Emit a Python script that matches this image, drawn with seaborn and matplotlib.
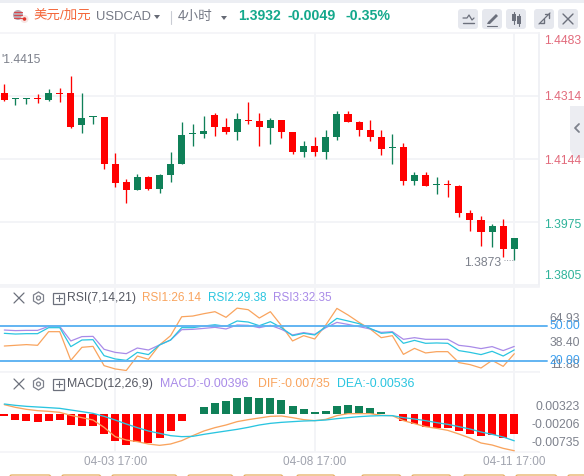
import matplotlib
matplotlib.use('Agg')
import matplotlib.pyplot as plt
from matplotlib.patches import Circle, FancyBboxPatch, Polygon
import numpy as np
import seaborn as sns

# candles (USDCAD, 4h)
OPEN = [1.4322, 1.4305, 1.4305, 1.4307, 1.4303, 1.4322, 1.4322, 1.4236, 1.4257, 1.4258, 1.4131, 1.4083,
        1.4061, 1.4096, 1.4064, 1.4101, 1.4131, 1.4211, 1.4212, 1.4263, 1.4231, 1.4217, 1.4249, 1.4247,
        1.4228, 1.4249, 1.4217, 1.4163, 1.4179, 1.4163, 1.4204, 1.4266, 1.4244, 1.4223, 1.4204, 1.4173,
        1.4177, 1.4085, 1.4101, 1.4074, 1.4076, 1.4072, 1.3999, 1.3980, 1.3948, 1.3964, 1.3902]
HIGH = [1.4346, 1.4307, 1.4309, 1.4319, 1.4333, 1.4336, 1.4368, 1.4322, 1.4260, 1.4258, 1.4161, 1.4091,
        1.4104, 1.4099, 1.4104, 1.4163, 1.4244, 1.4239, 1.4260, 1.4268, 1.4255, 1.4268, 1.4298, 1.4268,
        1.4255, 1.4249, 1.4217, 1.4193, 1.4204, 1.4223, 1.4274, 1.4274, 1.4247, 1.4249, 1.4223, 1.4212,
        1.4188, 1.4110, 1.4110, 1.4096, 1.4088, 1.4075, 1.4007, 1.3991, 1.3970, 1.3983, 1.3932]
LOW = [1.4299, 1.4290, 1.4292, 1.4295, 1.4301, 1.4298, 1.4229, 1.4214, 1.4239, 1.4118, 1.4069, 1.4026,
       1.4061, 1.4061, 1.4053, 1.4083, 1.4131, 1.4179, 1.4201, 1.4206, 1.4212, 1.4196, 1.4239, 1.4179,
       1.4185, 1.4201, 1.4158, 1.4150, 1.4153, 1.4145, 1.4196, 1.4244, 1.4206, 1.4193, 1.4155, 1.4131,
       1.4075, 1.4075, 1.4072, 1.4050, 1.4042, 1.3988, 1.3951, 1.3911, 1.3908, 1.3881, 1.3873]
CLOSE = [1.4303, 1.4307, 1.4307, 1.4305, 1.4322, 1.4320, 1.4231, 1.4255, 1.4258, 1.4131, 1.4080, 1.4061,
         1.4096, 1.4064, 1.4101, 1.4131, 1.4209, 1.4212, 1.4220, 1.4231, 1.4217, 1.4252, 1.4247, 1.4231,
         1.4249, 1.4217, 1.4163, 1.4179, 1.4163, 1.4204, 1.4266, 1.4244, 1.4223, 1.4204, 1.4171, 1.4175,
         1.4085, 1.4101, 1.4072, 1.4076, 1.4074, 1.3999, 1.3980, 1.3948, 1.3964, 1.3902, 1.3932]

RSI1 = [32.7, 33.3, 33.9, 33.3, 44.9, 44.9, 20.5, 31.6, 32.4, 16.0, 13.2, 11.88, 24.2, 21.4, 33.6, 41.5,
        57.6, 58.2, 60.2, 61.9, 57.1, 64.93, 63.6, 56.5, 61.9, 50.0, 37.0, 41.5, 38.7, 50.6, 64.7, 59.1,
        52.8, 47.2, 39.8, 41.5, 25.6, 30.7, 26.8, 27.9, 27.9, 18.6, 16.9, 14.0, 20.5, 15.4, 26.14]
RSI2 = [43.5, 42.9, 43.2, 43.2, 48.3, 48.3, 32.2, 37.8, 38.1, 24.5, 21.7, 20.5, 27.3, 25.4, 33.6, 37.8,
        48.3, 48.3, 49.7, 50.8, 49.4, 54.0, 53.1, 50.0, 53.4, 48.3, 41.5, 43.5, 42.1, 49.2, 56.2, 54.0,
        51.7, 47.7, 43.5, 44.3, 35.0, 37.5, 35.0, 35.3, 35.0, 28.8, 27.3, 25.4, 28.2, 24.2, 29.38]
RSI3 = [46.3, 45.8, 46.0, 46.0, 49.4, 49.4, 37.0, 40.7, 40.9, 29.9, 27.3, 26.2, 31.0, 29.3, 33.6, 37.8,
        46.6, 46.9, 47.7, 48.6, 47.2, 50.6, 50.3, 48.3, 50.3, 46.9, 42.1, 44.1, 42.6, 48.3, 52.8, 51.1,
        49.2, 47.2, 44.3, 44.9, 38.4, 39.8, 38.4, 38.4, 38.4, 33.3, 32.2, 30.5, 32.2, 28.8, 32.35]

MACD = [-0.0004, -0.0012, -0.0014, -0.0016, -0.0014, -0.0012, -0.0022, -0.0024, -0.0024, -0.0040, -0.0054,
        -0.0062, -0.0056, -0.0058, -0.0048, -0.0034, -0.0014, 0.0001, 0.0014, 0.0022, 0.0026, 0.0032, 0.0034,
        0.0032, 0.0032, 0.0028, 0.0016, 0.0010, 0.0004, 0.0006, 0.0016, 0.0018, 0.0016, 0.0012, 0.0004, 0.0001,
        -0.0014, -0.0020, -0.0026, -0.0028, -0.0028, -0.0034, -0.0040, -0.0044, -0.0042, -0.0048, -0.00396]
DIF = [0.00187, 0.00133, 0.00093, 0.00067, 0.00053, 0.00033, -0.00027, -0.00073, -0.00120, -0.00267, -0.00453,
       -0.00520, -0.00553, -0.00600, -0.00627, -0.00600, -0.00533, -0.00433, -0.00340, -0.00273, -0.00220,
       -0.00153, -0.00113, -0.00080, -0.00047, -0.00040, -0.00073, -0.00113, -0.00133, -0.00107, -0.00033,
       0.00007, 0.00007, 0.00007, -0.00027, -0.00033, -0.00133, -0.00193, -0.00253, -0.00287, -0.00327,
       -0.00400, -0.00480, -0.00580, -0.00620, -0.00687, -0.00735]
DEA = [0.00200, 0.00173, 0.00153, 0.00140, 0.00127, 0.00113, 0.00080, 0.00047, 0.00013, -0.00047, -0.00120,
       -0.00200, -0.00273, -0.00340, -0.00387, -0.00433, -0.00453, -0.00447, -0.00407, -0.00373, -0.00340,
       -0.00307, -0.00267, -0.00220, -0.00187, -0.00167, -0.00153, -0.00140, -0.00133, -0.00120, -0.00093,
       -0.00073, -0.00053, -0.00040, -0.00033, -0.00033, -0.00073, -0.00100, -0.00133, -0.00173, -0.00207,
       -0.00253, -0.00300, -0.00360, -0.00407, -0.00460, -0.00536]

PRICE_GRID = [1.4314, 1.4144, 1.3975, 1.3805]
TIME_INDEX = [10, 28, 46]
TIME_LABELS = ['04-03 17:00', '04-08 17:00', '04-11 17:00']

W, H = 584, 476
UP = '#0f8058'
DOWN = '#ff0000'
GRID = '#f3f4f7'
GRAY = '#7d818c'
ORANGE = '#f9a45e'
CYAN = '#2ac5e0'
PURPLE = '#a98be8'
LEVEL = '#62b4f2'
FONT = ['Liberation Sans', 'Noto Sans CJK SC', 'DejaVu Sans']

sns.set_theme(style='white')
plt.rcParams['font.family'] = FONT


def pane(fig, top, bottom):
    ax = fig.add_axes([0, 1 - bottom / H, 539 / W, (bottom - top) / H])
    for side in ['left', 'right']:
        ax.spines[side].set_visible(False)
    for side in ['top', 'bottom']:
        ax.spines[side].set_color(GRID)
        ax.spines[side].set_linewidth(1.2)
    ax.set_xticks(TIME_INDEX)
    ax.set_xticklabels([])
    ax.set_yticks([])
    ax.tick_params(length=0)
    ax.grid(True, axis='x', color=GRID, lw=1.4)
    ax.set_axisbelow(True)
    return ax


fig = plt.figure(figsize=(W / 100, H / 100), dpi=100, facecolor='white')
ax_main = pane(fig, 33, 286)
ax_rsi = pane(fig, 287, 372)
ax_macd = pane(fig, 372, 452)

idx = np.arange(len(CLOSE))
o, c = np.array(OPEN), np.array(CLOSE)
colors = [UP if up else DOWN for up in c >= o]

# candles
ax_main.vlines(idx, LOW, HIGH, colors=colors, lw=0.95, zorder=3)
ax_main.bar(idx, np.maximum(np.abs(c - o), 0.00027), bottom=np.minimum(o, c), width=0.64,
            color=colors, linewidth=0, zorder=3)
ax_main.set_yticks(PRICE_GRID)
ax_main.set_yticklabels([])
ax_main.grid(True, axis='y', color=GRID, lw=1.4)
ax_main.spines['right'].set_visible(True)
ax_main.spines['right'].set_color('#eef0f4')
ax_main.set_ylim(1.3803, 1.4483)

# RSI
for series, col in [(RSI1, ORANGE), (RSI3, PURPLE), (RSI2, CYAN)]:
    sns.lineplot(x=idx, y=series, color=col, lw=0.9, errorbar=None, ax=ax_rsi, zorder=3)
for level in [50, 20]:
    ax_rsi.plot([0, 547 / 539], [level, level], color=LEVEL, lw=1.4,
                transform=ax_rsi.get_yaxis_transform(), clip_on=False, zorder=4)
ax_rsi.set_ylim(10.6, 82.9)

# MACD
side = ['up' if v > 0 else 'down' for v in MACD]
sns.barplot(x=idx, y=MACD, hue=side, palette={'up': UP, 'down': DOWN}, dodge=False, native_scale=True,
            width=0.72, saturation=1, legend=False, errorbar=None, linewidth=0, ax=ax_macd, zorder=2)
sns.lineplot(x=idx, y=DIF, color=ORANGE, lw=0.95, errorbar=None, ax=ax_macd, zorder=3)
sns.lineplot(x=idx, y=DEA, color=CYAN, lw=0.95, errorbar=None, ax=ax_macd, zorder=3)
ax_macd.set_ylim(-0.0076, 0.0084)
ax_macd.set_yticks([])
ax_macd.set_xticks(TIME_INDEX)
ax_macd.set_xticklabels(TIME_LABELS, fontsize=8.5, color='#a0a3ae')
ax_macd.tick_params(axis='x', length=0, pad=3)
ax_macd.set_xlabel('')
ax_macd.set_ylabel('')
ax_rsi.set_xlabel('')
ax_rsi.set_ylabel('')

for ax in [ax_main, ax_rsi, ax_macd]:
    ax.set_xlim(-0.388, 48.23)

# overlay in pixel coordinates for the app chrome and labels
ui = fig.add_axes([0, 0, 1, 1], zorder=10)
ui.set_xlim(0, W)
ui.set_ylim(H, 0)
ui.axis('off')
ui.patch.set_alpha(0)


def label(x, y, text, color=GRAY, size=8.7, ha='left', weight='normal'):
    ui.text(x, y, text, color=color, fontsize=size, ha=ha, va='center', fontweight=weight)


def stroke(xs, ys, color='#6c707c', lw=1.0, ls='-'):
    ui.plot(xs, ys, color=color, lw=lw, ls=ls, solid_capstyle='round')


ui.fill_between([0, W], 0, 3, color='#eceef3', lw=0)

# header
ui.add_patch(Circle((18, 15), 5, color='#b9a9b4', lw=0))
for y in [12, 15, 18]:
    stroke([14, 22], [y, y], '#d8474b', 0.8)
ui.add_patch(Circle((24.5, 19), 4, color='#f6e6e4', lw=0))
ui.add_patch(Circle((24.5, 19), 1.8, color='#e0362c', lw=0))
label(33, 16, '美元/加元', '#f4683c', 9.7)
label(96, 17, 'USDCAD', '#757985', 9.4)
ui.add_patch(Polygon([[154, 15], [160, 15], [157, 19]], color='#666a75', lw=0))
stroke([170.5, 170.5], [11, 24], '#c9ccd4', 0.8)
label(178, 16, '4小时', '#757985', 9.8)
ui.add_patch(Polygon([[221, 16], [227, 16], [224, 20]], color='#666a75', lw=0))
label(238, 16.5, '1.3932', '#14a88c', 10.0, weight='bold')
label(288, 16.5, '-0.0049', '#14a88c', 10.2, weight='bold')
label(346, 16.5, '-0.35%', '#14a88c', 10.2, weight='bold')

for x0 in [458, 482, 506, 534, 558]:
    ui.add_patch(FancyBboxPatch((x0 + 2, 11), 16, 16, boxstyle='round,pad=2,rounding_size=3',
                                color='#e6e8ee', lw=0))
stroke([463, 467, 469, 472, 474], [18, 18, 15, 20, 18], lw=0.9)
stroke([463, 474], [23, 23], lw=1.0)
ui.add_patch(Polygon([[488, 22], [496, 14], [498, 16], [490, 24], [487, 24]], color='#6c707c', lw=0))
stroke([487, 497], [25.5, 25.5], lw=0.8)
for x0, top, bot, y0, y1 in [(514, 14, 21, 12, 24), (519, 16, 24, 14, 26)]:
    stroke([x0, x0], [y0, y1], lw=0.8)
    ui.add_patch(Polygon([[x0 - 2, top], [x0 + 2, top], [x0 + 2, bot], [x0 - 2, bot]], color='#6c707c', lw=0))
stroke([539, 550], [24, 13], lw=0.9)
stroke([545, 549, 549], [14, 14, 18], lw=1.0)
stroke([540, 544, 544], [23, 23, 19], lw=1.0)
stroke([563, 573], [14, 24], lw=1.0)
stroke([563, 573], [24, 14], lw=1.0)

# side tab
ui.add_patch(Polygon([[570, 106], [584, 106], [584, 158], [574, 158], [570, 150]], color='#ecedf2', lw=0))
stroke([579, 575, 579], [124, 128, 132], '#7d818c', 1.3)

# price scale
for y, text, col in [(41, '1.4483', '#e26b7c'), (97, '1.4314', '#e26b7c'), (161, '1.4144', '#e26b7c'),
                     (225, '1.3975', '#2fb39a'), (276, '1.3805', '#2fb39a')]:
    label(544, y, text, col)
label(1, 60, "'1.4415", GRAY, 8.7)
label(464, 263, '1.3873', GRAY, 8.7)
stroke([504, 514], [260, 260], '#9a9ea8', 0.7, ':')

# indicator headers
for y in [298, 384]:
    stroke([14, 24], [y - 5, y + 5], lw=0.9)
    stroke([14, 24], [y + 5, y - 5], lw=0.9)
    ui.add_patch(Polygon([[38.5, y - 6], [43.5, y - 3], [43.5, y + 3], [38.5, y + 6], [33.5, y + 3], [33.5, y - 3]],
                         fill=False, edgecolor='#7d818c', lw=0.9))
    ui.add_patch(Circle((38.5, y), 2, fill=False, edgecolor='#7d818c', lw=0.9))
    ui.add_patch(Polygon([[53, y - 5.5], [64, y - 5.5], [64, y + 5.5], [53, y + 5.5]],
                         fill=False, edgecolor='#6c707c', lw=0.9))
    stroke([55.5, 61.5], [y, y], lw=0.8)
    stroke([58.5, 58.5], [y - 3, y + 3], lw=0.8)

label(67, 298, 'RSI(7,14,21)', '#555862', 8.7)
label(142, 298, 'RSI1:26.14', ORANGE, 8.5)
label(208, 298, 'RSI2:29.38', CYAN, 8.5)
label(273, 298, 'RSI3:32.35', PURPLE, 8.5)
label(67, 384, 'MACD(12,26,9)', '#555862', 8.9)
label(160, 384, 'MACD:-0.00396', PURPLE, 8.9)
label(258, 384, 'DIF:-0.00735', ORANGE, 8.9)
label(337, 384, 'DEA:-0.00536', CYAN, 8.9)

label(580, 319, '64.93', GRAY, ha='right')
label(580, 342.6, '38.40', GRAY, ha='right')
label(580, 365, '11.88', GRAY, ha='right')
label(580, 326, '50.00', '#3d9fee', ha='right')
label(580, 361, '20.00', '#3d9fee', ha='right')
label(580, 407, '0.00323', GRAY, ha='right')
label(580, 425, '-0.00206', GRAY, ha='right')
label(580, 443, '-0.00735', GRAY, ha='right')

# cut-off time range buttons
for x0, x1 in [(9, 51), (61, 101), (111, 177), (187, 233), (243, 283), (296, 335),
               (361, 401), (411, 451), (463, 505), (515, 557), (567, 607)]:
    ui.add_patch(FancyBboxPatch((x0, 475), x1 - x0, 10, boxstyle='round,pad=0,rounding_size=2.5',
                                fill=False, edgecolor='#e6ad5e', lw=0.9))

fig.savefig('out.png', dpi=100)
